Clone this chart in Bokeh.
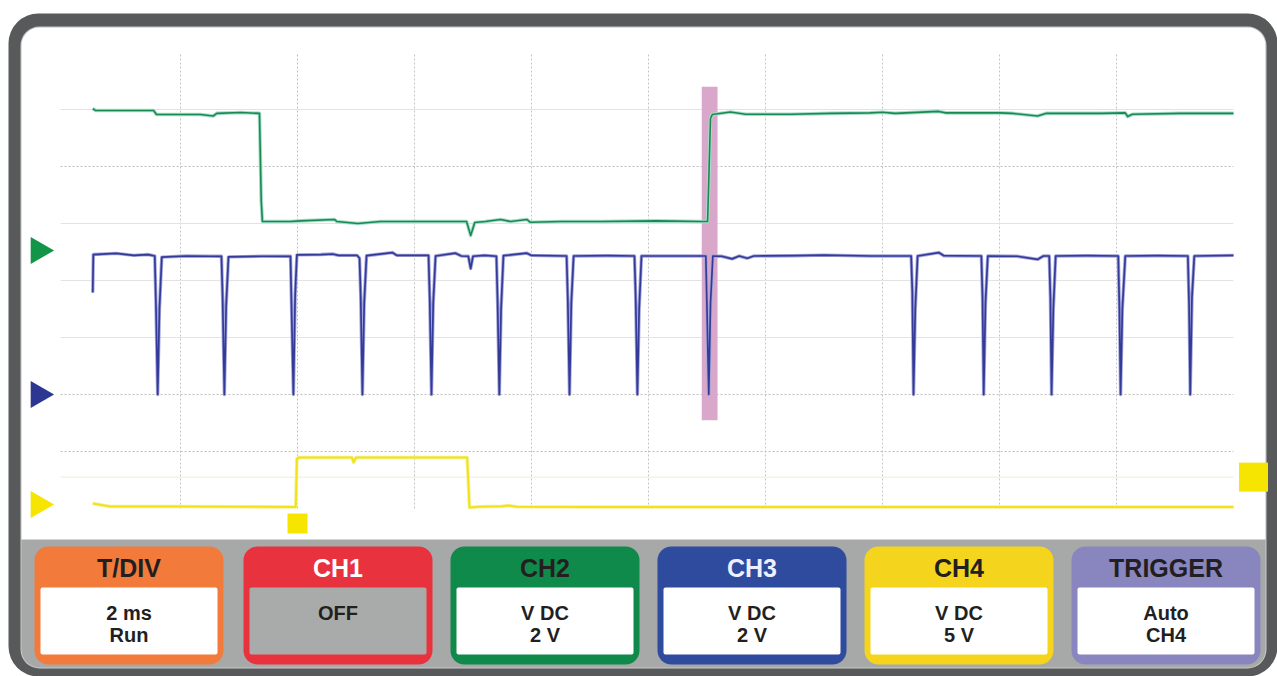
import numpy as np
from bokeh.plotting import figure
from bokeh.models import Range1d, BoxAnnotation
from bokeh.core.properties import value
from bokeh.embed import file_html
from bokeh.resources import INLINE

# ---------------- data ----------------
T_PER_DIV_MS = 2.0
CH2_V_PER_DIV = 2.0
CH3_V_PER_DIV = 2.0
CH4_V_PER_DIV = 5.0
TRIGGER_TIME_MS = 4.0
TRIGGER_LEVEL_V = 2.4
CURSOR_MS = [10.91, 11.18]
CURSOR_DIV = [1.55, 7.4]

# CH2 (green) time in ms, volts
ch2_t = [0.50, 0.55, 1.15, 1.54, 1.59, 2.34, 2.56, 2.62, 3.03, 3.35,
         3.38, 3.40, 3.88, 4.05, 4.63, 4.67, 5.03, 5.42, 6.10, 6.89,
         6.96, 7.03, 7.21, 7.47, 7.64, 7.92, 7.98, 8.50, 9.18, 10.14,
         10.89, 11.01, 11.03, 11.06, 11.09, 11.40, 11.66, 12.43, 13.11, 13.79,
         14.00, 14.22, 14.96, 15.08, 16.02, 16.22, 16.65, 16.79, 17.73, 18.15,
         18.19, 18.27, 19.09, 20.00]
ch2_v = [4.98, 4.91, 4.91, 4.91, 4.77, 4.77, 4.72, 4.81, 4.84, 4.81,
         1.75, 1.02, 1.02, 1.04, 1.09, 1.02, 0.95, 1.02, 1.02, 1.02,
         0.53, 0.98, 1.02, 1.09, 1.02, 1.09, 0.99, 1.02, 1.02, 1.04,
         1.02, 1.02, 2.46, 4.63, 4.77, 4.86, 4.78, 4.78, 4.81, 4.83,
         4.85, 4.81, 4.88, 4.83, 4.83, 4.81, 4.72, 4.81, 4.81, 4.83,
         4.70, 4.78, 4.81, 4.81]

# CH3 (blue)
ch3_t = [0.50, 0.51, 0.90, 1.20, 1.45, 1.56, 1.58, 1.61, 1.64, 1.68,
         2.10, 2.50, 2.70, 2.72, 2.75, 2.78, 2.82, 3.40, 3.88, 3.90,
         3.93, 3.96, 3.99, 4.40, 4.60, 4.70, 5.02, 5.06, 5.08, 5.11,
         5.14, 5.18, 5.62, 5.70, 6.24, 6.26, 6.29, 6.32, 6.36, 6.70,
         6.80, 6.92, 6.96, 7.00, 7.20, 7.40, 7.42, 7.45, 7.48, 7.52,
         7.92, 8.00, 8.60, 8.62, 8.65, 8.68, 8.72, 9.30, 9.76, 9.78,
         9.81, 9.84, 9.88, 10.50, 10.98, 11.00, 11.03, 11.06, 11.10, 11.25,
         11.43, 11.55, 11.69, 11.80, 12.50, 13.00, 13.80, 14.49, 14.51, 14.53,
         14.56, 14.60, 14.96, 15.05, 15.69, 15.71, 15.73, 15.76, 15.80, 16.30,
         16.65, 16.75, 16.85, 16.87, 16.89, 16.92, 16.96, 17.50, 18.03, 18.05,
         18.07, 18.10, 18.15, 18.70, 19.22, 19.24, 19.26, 19.29, 19.33, 20.00]
ch3_v = [3.58, 4.91, 4.95, 4.88, 4.91, 4.86, 3.20, 0.00, 3.00, 4.82,
         4.86, 4.85, 4.85, 3.40, 0.00, 3.10, 4.83, 4.85, 4.85, 2.90,
         0.00, 3.50, 4.90, 4.91, 4.93, 4.88, 4.88, 4.78, 3.50, 0.00,
         3.20, 4.87, 4.98, 4.88, 4.88, 3.40, 0.00, 3.20, 4.86, 4.96,
         4.86, 4.85, 4.42, 4.85, 4.88, 4.85, 3.30, 0.00, 3.00, 4.87,
         4.96, 4.88, 4.86, 3.40, 0.00, 3.20, 4.86, 4.87, 4.86, 3.50,
         0.00, 3.00, 4.86, 4.86, 4.86, 3.00, 0.00, 3.20, 4.86, 4.85,
         4.76, 4.86, 4.78, 4.86, 4.87, 4.89, 4.86, 4.86, 3.60, 0.00,
         3.00, 4.86, 4.98, 4.87, 4.86, 3.40, 0.00, 3.20, 4.86, 4.85,
         4.74, 4.86, 4.86, 3.40, 0.00, 3.00, 4.86, 4.87, 4.86, 3.00,
         0.00, 3.00, 4.86, 4.87, 4.86, 3.20, 0.00, 3.40, 4.86, 4.88]

# CH4 (yellow)
ch4_t = [0.50, 0.80, 2.00, 3.00, 3.97, 3.99, 4.03, 4.60, 4.93, 4.96,
         5.00, 5.80, 6.50, 6.90, 6.92, 6.94, 7.10, 7.50, 7.60, 7.75,
         9.00, 11.00, 13.00, 15.00, 17.00, 19.00, 20.00]
ch4_v = [0.09, -0.18, -0.18, -0.20, -0.22, 4.00, 4.12, 4.12, 4.12, 3.70,
         4.12, 4.12, 4.12, 4.12, 2.00, -0.26, -0.20, -0.15, -0.08, -0.20,
         -0.22, -0.22, -0.22, -0.22, -0.22, -0.22, -0.22]

# graticule (time divisions in ms, vertical divisions)
grid_time_ms = [2, 6, 8, 10, 12, 14, 16, 18]
grid_div_solid = [3, 4, 5, 7]
grid_div_dotted = [1, 2, 6]

# control panel texts
button_titles = ["T/DIV", "CH1", "CH2", "CH3", "CH4", "TRIGGER"]
button_line1 = ["2 ms", "OFF", "V DC", "V DC", "V DC", "Auto"]
button_line2 = ["Run", "", "2 V", "2 V", "5 V", "CH4"]

# ---------------- layout / style ----------------
W, H = 1277, 676
T0_PX, DIV_W = 63, 117          # screen x of t=0 and width of one division
G0_PX, DIV_H = 508, 57          # screen y of division 0 and height of one division
CH2_GND, CH3_GND, CH4_GND = 250, 394, 504

button_colors = ["#f27b3b", "#e8323d", "#108a4b", "#2f4b9d", "#f4d41d", "#8985bf"]
button_inner = ["white", "#a9abaa", "white", "white", "white", "white"]
title_colors = ["#231f20", "#ffffff", "#231f20", "#eef0ff", "#231f20", "#231f20"]
BTN_LEFT = [34, 243, 450, 657, 864, 1071]
BTN_W = 189

p = figure(width=W, height=H, output_backend="svg", toolbar_location=None,
           x_range=Range1d(0, W), y_range=Range1d(H, 0),
           x_axis_type=None, y_axis_type=None, min_border=0,
           outline_line_color=None, background_fill_color="white",
           border_fill_color="white")
p.grid.visible = False


def t_at(px):
    return (px - T0_PX) / DIV_W * T_PER_DIV_MS


def chan_range(gnd, vdiv):
    return Range1d((gnd - H) / DIV_H * vdiv, (gnd - 0) / DIV_H * vdiv)


p.extra_x_ranges = {"ms": Range1d(t_at(0), t_at(W))}
p.extra_y_ranges = {
    "div": chan_range(G0_PX, 1.0),
    "ch2": chan_range(CH2_GND, CH2_V_PER_DIV),
    "ch3": chan_range(CH3_GND, CH3_V_PER_DIV),
    "ch4": chan_range(CH4_GND, CH4_V_PER_DIV),
}


def rbox(l, r, t, b, color, radius, line_color=None):
    box = BoxAnnotation(left=l, right=r, top=t, bottom=b, fill_color=color,
                        fill_alpha=1.0, line_color=line_color, line_width=1,
                        border_radius=radius, level="underlay")
    p.add_layout(box)


# bezel
rbox(8, 1277, 13, 676, "#58595b", 30)
rbox(20, 1266, 26, 668, "#c8cac9", 19)
rbox(21, 1265, 27, 667, "#a7a9a8", 18)
rbox(21, 1265, 27, 539, "white", (18, 18, 0, 0))

# buttons
for i, left in enumerate(BTN_LEFT):
    rbox(left, left + BTN_W, 546, 664, button_colors[i], 14)
    rbox(left + 6, left + BTN_W - 6, 587, 654, button_inner[i], 2)

# graticule
n = len(grid_time_ms)
p.segment(x0=grid_time_ms, x1=grid_time_ms, y0=[0] * n, y1=[8] * n,
          x_range_name="ms", y_range_name="div",
          line_color="#c4c4c4", line_width=1, line_dash="2 2")
p.segment(x0=[TRIGGER_TIME_MS], x1=[TRIGGER_TIME_MS], y0=[0], y1=[8],
          x_range_name="ms", y_range_name="div",
          line_color="#d6cb45", line_width=1, line_dash="2 2")
m = len(grid_div_solid)
p.segment(x0=[-0.05] * m, x1=[20] * m, y0=grid_div_solid, y1=grid_div_solid,
          x_range_name="ms", y_range_name="div",
          line_color="#e3e3e3", line_width=1)
k = len(grid_div_dotted)
p.segment(x0=[-0.05] * k, x1=[20] * k, y0=grid_div_dotted, y1=grid_div_dotted,
          x_range_name="ms", y_range_name="div",
          line_color="#bdbdbd", line_width=1, line_dash="2 2")
p.segment(x0=[-0.05], x1=[20], y0=[TRIGGER_LEVEL_V], y1=[TRIGGER_LEVEL_V],
          x_range_name="ms", y_range_name="ch4",
          line_color="#f1edc4", line_width=1)

# cursor band
p.quad(left=[CURSOR_MS[0]], right=[CURSOR_MS[1]], bottom=[CURSOR_DIV[0]],
       top=[CURSOR_DIV[1]], x_range_name="ms", y_range_name="div",
       fill_color="#d8a7c9", line_color=None)

# traces
p.line(ch2_t, ch2_v, x_range_name="ms", y_range_name="ch2",
       line_color="#a6dccb", line_width=3.6, line_join="round")
p.line(ch2_t, ch2_v, x_range_name="ms", y_range_name="ch2",
       line_color="#178a50", line_width=1.6, line_join="round")
p.line(ch3_t, ch3_v, x_range_name="ms", y_range_name="ch3",
       line_color="#a3a6da", line_width=3.4, line_join="round")
p.line(ch3_t, ch3_v, x_range_name="ms", y_range_name="ch3",
       line_color="#343a98", line_width=1.7, line_join="round")
p.line(ch4_t, ch4_v, x_range_name="ms", y_range_name="ch4",
       line_color="#f7f0a0", line_width=3.6, line_join="round")
p.line(ch4_t, ch4_v, x_range_name="ms", y_range_name="ch4",
       line_color="#f1e31a", line_width=2.0, line_join="round")

# ground reference markers (0 V of each channel)
MARK_X = 38
p.scatter(x=[MARK_X], y=[0], y_range_name="ch2", marker="triangle",
          angle=-np.pi / 2, size=27, fill_color="#129549", line_color=None)
p.scatter(x=[MARK_X], y=[0], y_range_name="ch3", marker="triangle",
          angle=-np.pi / 2, size=27, fill_color="#2b3791", line_color=None)
p.scatter(x=[MARK_X], y=[0], y_range_name="ch4", marker="triangle",
          angle=-np.pi / 2, size=27, fill_color="#f6e500", line_color=None)

# trigger markers
p.scatter(x=[TRIGGER_TIME_MS], y=[523], x_range_name="ms", marker="square",
          size=20, fill_color="#f6e500", line_color=None)
p.scatter(x=[1253], y=[TRIGGER_LEVEL_V], y_range_name="ch4", marker="square",
          size=29, fill_color="#f6e500", line_color=None)

# button texts
centers = [l + BTN_W / 2 for l in BTN_LEFT]
font = value("Liberation Sans")
p.text(x=centers, y=[567] * 6, text=button_titles, text_font=font,
       text_font_style="bold", text_font_size="25px", text_color=title_colors,
       text_align="center", text_baseline="middle")
p.text(x=centers, y=[612] * 6, text=button_line1, text_font=font,
       text_font_style="bold", text_font_size="20px", text_color="#231f20",
       text_align="center", text_baseline="middle")
p.text(x=centers, y=[634] * 6, text=button_line2, text_font=font,
       text_font_style="bold", text_font_size="20px", text_color="#231f20",
       text_align="center", text_baseline="middle")

open("out.html", "w").write(file_html(p, INLINE))
